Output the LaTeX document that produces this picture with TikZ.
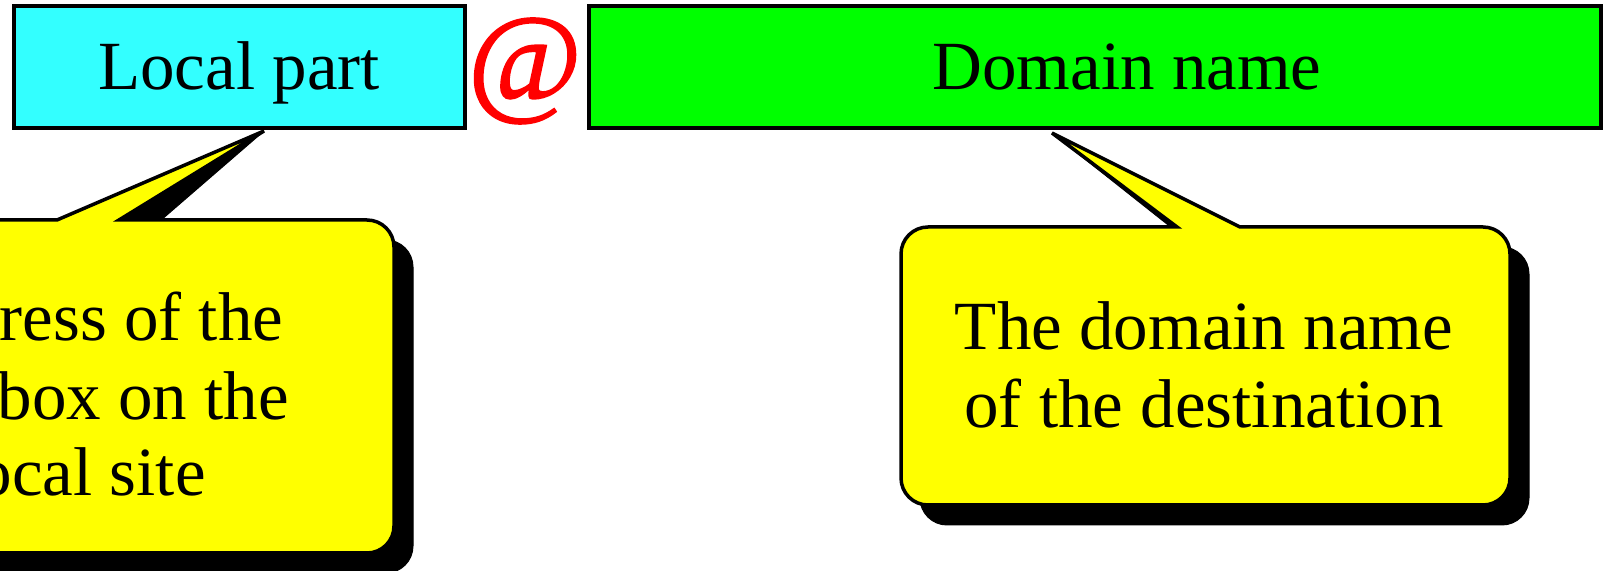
\documentclass[tikz,border=0pt]{standalone}
\usepackage{fontspec}
\setmainfont{Liberation Serif}
\newfontfamily\atfont[FakeBold=1.2]{Liberation Serif}
\definecolor{lpcyan}{RGB}{51,255,255}
\definecolor{dngreen}{RGB}{0,255,0}
\definecolor{atred}{RGB}{255,0,0}
\definecolor{callyellow}{RGB}{255,255,0}
\begin{document}
\begin{tikzpicture}[x=1bp,y=1bp,
  boxstyle/.style={draw=black, line width=4bp, inner sep=0pt, anchor=south west},
  lbl/.style={font=\fontsize{69bp}{78bp}\selectfont, inner sep=0pt, anchor=base},
  callfill/.style={fill=callyellow, draw=black, line width=3.5bp, line join=miter},
  callshadow/.style={fill=black, draw=black, line width=1bp}]
\useasboundingbox (0,0) rectangle (1605,571);
\clip (0,0) rectangle (1605,571);
% top boxes
\node[boxstyle, fill=lpcyan, minimum width=451bp, minimum height=122bp] (local) at (12,441) {};
\node[boxstyle, fill=dngreen, minimum width=1012bp, minimum height=122bp] (domain) at (587,441) {};
\node[lbl] (localtxt) at (239,481) {Local part};
\node[lbl] (domaintxt) at (1127,481) {Domain name};
\node[font=\atfont\fontsize{124bp}{126bp}\selectfont, text=atred, inner sep=0pt] (at) at (525,500) {@};
% left callout shadow
\path[callshadow] (-185,331) -- (76,331) -- (264,440) -- (138,331) -- (386,331)
  arc[start angle=90,end angle=0,radius=27] -- (413,25)
  arc[start angle=0,end angle=-90,radius=27] -- (-184,-2)
  arc[start angle=270,end angle=180,radius=27] -- (-211,304)
  arc[start angle=180,end angle=90,radius=27] -- cycle;
% left callout
\path[callfill] (-203,351) -- (57,351) -- (264,440) -- (119,351) -- (367,351)
  arc[start angle=90,end angle=0,radius=27] -- (394,45)
  arc[start angle=0,end angle=-90,radius=27] -- (-203,18)
  arc[start angle=270,end angle=180,radius=27] -- (-230,324)
  arc[start angle=180,end angle=90,radius=27] -- cycle;
\node[lbl] (lc1) at (82,230) {Address of the};
\node[lbl] (lc2) at (82,151) {mailbox on the};
\node[lbl] (lc3) at (82,75) {local site};
% right callout shadow
\path[callshadow] (947,324) -- (1196,324) -- (1052,438) -- (1259,324) -- (1502,324)
  arc[start angle=90,end angle=0,radius=27] -- (1529,73)
  arc[start angle=0,end angle=-90,radius=27] -- (947,46)
  arc[start angle=270,end angle=180,radius=27] -- (920,297)
  arc[start angle=180,end angle=90,radius=27] -- cycle;
% right callout
\path[callfill] (928,344) -- (1177,344) -- (1052,438) -- (1240,344) -- (1483,344)
  arc[start angle=90,end angle=0,radius=27] -- (1510,93)
  arc[start angle=0,end angle=-90,radius=27] -- (928,66)
  arc[start angle=270,end angle=180,radius=27] -- (901,317)
  arc[start angle=180,end angle=90,radius=27] -- cycle;
\node[lbl] (rc1) at (1204,221) {The domain name};
\node[lbl] (rc2) at (1204,143) {of the destination};
\end{tikzpicture}
\end{document}
